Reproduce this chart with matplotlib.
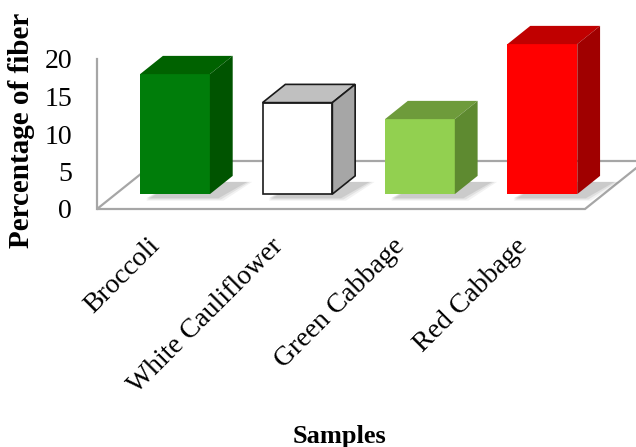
import matplotlib.pyplot as plt
import numpy as np

plt.rcParams['font.family'] = ['Liberation Serif', 'DejaVu Serif']

# values
samples = ["Broccoli", "White Cauliflower", "Green Cabbage", "Red Cabbage"]
fiber = [16.0, 12.2, 10.0, 20.0]
front_colors = ["#007d0a", "#ffffff", "#92d050", "#ff0000"]
top_colors = ["#006200", "#c0c0c0", "#6e9b3b", "#c00000"]
side_colors = ["#005400", "#a6a6a6", "#5e8a30", "#a00000"]
edge_colors = ["none", "#1a1a1a", "none", "none"]
y_ticks = [0, 5, 10, 15, 20]

# oblique "3D" look: depth vector of the floor in data units
dx, dy = 0.49, 6.4
z0, z1 = 0.31, 0.69     # bar front / back as fraction of floor depth
w = 0.57

fig = plt.figure(figsize=(6.36, 4.47), dpi=100)
ax = fig.add_axes([97 / 636, (447 - 209) / 447, 488 / 636, 150 / 447])
ax.set_xlim(-0.485, 3.5)
ax.set_ylim(0, 20)

# floor
x0, x1 = ax.get_xlim()
floor_x = [x0, x1, x1 + dx, x0 + dx]
floor_y = [0, 0, dy, dy]
ax.fill(floor_x, floor_y, facecolor="white", edgecolor="#a6a6a6", lw=1.6,
        clip_on=False, zorder=1)

x = np.arange(len(samples))

# soft shadows on the floor
for xi, v in zip(x, fiber):
    for k, a in enumerate([0.05, 0.07, 0.09]):
        e = 0.02 * (3 - k)
        sx = [xi + z0 * dx - w / 2 + 0.05, xi + z0 * dx + w / 2 + 0.05 + e,
              xi + z1 * dx + w / 2 + 0.1 + e, xi + z1 * dx - w / 2 + 0.1]
        sy = [z0 * dy - 0.4 - e * 8, z0 * dy - 0.4 - e * 8, z1 * dy - 0.8, z1 * dy - 0.8]
        ax.fill(sx, sy, color="black", alpha=a, lw=0, clip_on=False, zorder=2)

# bars: front face with ax.bar, top and side as polygons
fx = x + z0 * dx
fy = z0 * dy
bars = ax.bar(fx, fiber, bottom=fy, width=w, color=front_colors,
              edgecolor=edge_colors, linewidth=1.2, zorder=3, clip_on=False)
ddx, ddy = (z1 - z0) * dx, (z1 - z0) * dy
for i, v in enumerate(fiber):
    l, r = fx[i] - w / 2, fx[i] + w / 2
    t = fy + v
    ax.fill([l, r, r + ddx, l + ddx], [t, t, t + ddy, t + ddy],
            facecolor=top_colors[i], edgecolor=edge_colors[i], lw=1.2,
            zorder=3, clip_on=False)
    ax.fill([r, r + ddx, r + ddx, r], [fy, fy + ddy, t + ddy, t],
            facecolor=side_colors[i], edgecolor=edge_colors[i], lw=1.2,
            zorder=3, clip_on=False)

# axes styling
for s in ["top", "right", "bottom"]:
    ax.spines[s].set_visible(False)
ax.spines["left"].set_color("#a6a6a6")
ax.spines["left"].set_linewidth(1.6)
ax.set_yticks(y_ticks)
ax.tick_params(axis="y", length=0, pad=18, labelsize=20)
ax.set_xticks(x)
ax.set_xticklabels(samples, rotation=45, ha="right", va="center",
                   rotation_mode="anchor", fontsize=20)
ax.tick_params(axis="x", length=0, pad=24)
ax.patch.set_visible(False)

fig.text(22 / 636, 1 - 130 / 447, "Percentage of fiber", rotation=90,
         ha="center", va="center", fontsize=21, fontweight="bold")
fig.text(340 / 636, 1 - 437 / 447, "Samples", ha="center", va="center",
         fontsize=19, fontweight="bold")

fig.savefig("out.png", dpi=100)
